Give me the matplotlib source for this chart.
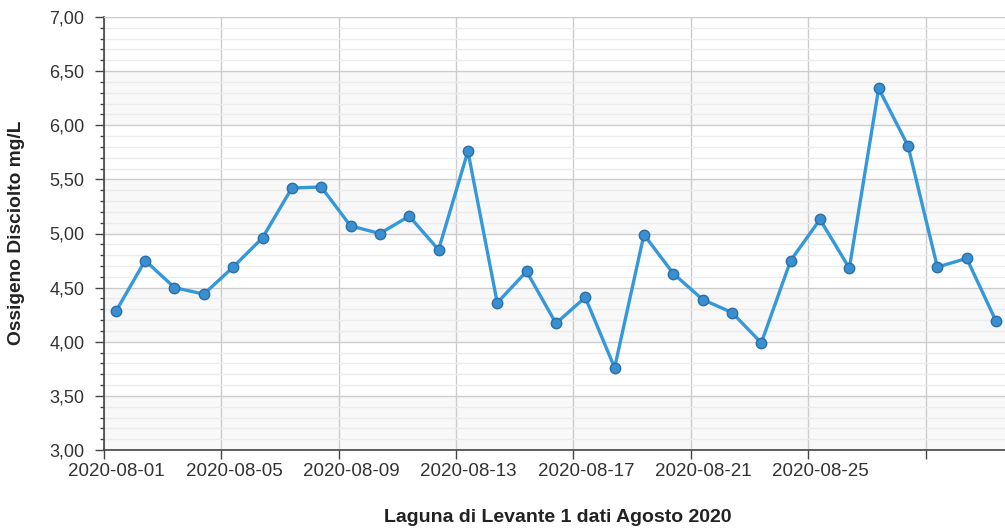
import numpy as np
import pandas as pd
import matplotlib
matplotlib.use('Agg')
import matplotlib.pyplot as plt
from matplotlib.ticker import MultipleLocator, FuncFormatter, NullFormatter

plt.rcParams['font.family'] = ['Liberation Sans', 'DejaVu Sans']

# ── Data: dissolved oxygen, one reading per day (Aug 2020) ──────────────
days = pd.date_range('2020-08-01 09:40', periods=31, freq='D')
oxygen = [4.28, 4.75, 4.50, 4.44, 4.69, 4.96, 5.42, 5.43, 5.07, 5.00,
          5.16, 4.85, 5.76, 4.36, 4.65, 4.17, 4.41, 3.76, 4.99, 4.63,
          4.39, 4.27, 3.99, 4.75, 5.13, 4.68, 6.34, 5.81, 4.69, 4.77,
          4.19]
tick_days = pd.date_range('2020-08-01', '2020-08-29', freq='4D')
label_days = tick_days[:-1]   # last gridline carries no label

W, H = 1005, 529
fig = plt.figure(figsize=(W / 100, H / 100), dpi=100)
ax = fig.add_axes([104 / W, 1 - 450 / H, (1005 - 104) / W, (450 - 17) / H])

y0, y1 = 3.0, 7.0
# alternating background bands
for k, lo in enumerate(np.arange(y0, y1, 0.5)):
    if k % 2 == 0:
        ax.axhspan(lo, lo + 0.5, color='#f8f8f8', zorder=0, lw=0)

ax.plot(days, oxygen, '-', color='#3498db', lw=2.4, zorder=3)
ax.plot(days, oxygen, 'o', ms=7.5, mfc='#3a8fd0', mec='#2a6fa8', mew=1.0, zorder=4)

ax.set_ylim(y0, y1)
ax.set_xlim(pd.Timestamp('2020-08-01 00:00'), pd.Timestamp('2020-08-31 17:00'))

ax.yaxis.set_major_locator(MultipleLocator(0.5))
ax.yaxis.set_minor_locator(MultipleLocator(0.1))
ax.yaxis.set_major_formatter(FuncFormatter(lambda v, p: f'{v:.2f}'.replace('.', ',')))

# gridlines/ticks on the day boundary, labels drawn a bit to the right
ax.set_xticks(tick_days)
ax.xaxis.set_major_formatter(NullFormatter())
ax.set_xticks(label_days + pd.Timedelta(hours=10, minutes=20), minor=True)
ax.set_xticklabels([d.strftime('%Y-%m-%d') for d in label_days], minor=True)

ax.grid(True, which='major', axis='both', color='#cccccc', lw=1.0, zorder=1)
ax.grid(True, which='minor', axis='y', color='#ececec', lw=1.0, zorder=1)
ax.set_axisbelow(True)

ax.tick_params(axis='both', which='major', direction='out', length=6.5, width=1,
               color='#444444', labelsize=13, labelcolor='#333333')
ax.tick_params(axis='y', which='minor', direction='out', length=3.2, width=1,
               color='#444444')
ax.tick_params(axis='y', which='major', pad=7.5)
ax.tick_params(axis='x', which='minor', length=0, pad=9,
               labelsize=13.5, labelcolor='#333333')

for s in ['left', 'bottom']:
    ax.spines[s].set_color('#444444')
    ax.spines[s].set_linewidth(1.2)
ax.spines['top'].set_color('#cccccc')
ax.spines['right'].set_visible(False)

fig.text(17 / W, 1 - 233 / H, 'Ossigeno Disciolto mg/L', rotation=90,
         ha='center', va='center', fontsize=13.8, fontweight='bold', color='#222222')
fig.text(558 / W, 1 - 517 / H, 'Laguna di Levante 1 dati Agosto 2020',
         ha='center', va='center', fontsize=14, fontweight='bold', color='#222222')

fig.savefig('out.png', dpi=100)
